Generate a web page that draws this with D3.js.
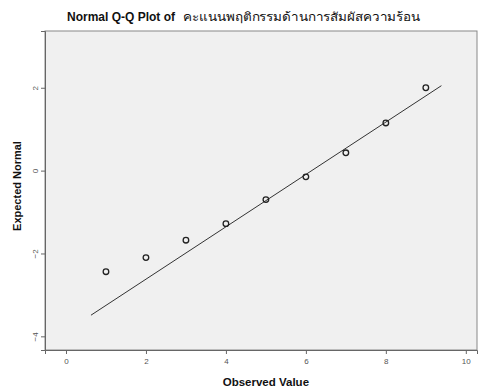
<!DOCTYPE html>
<html>
<head>
<meta charset="utf-8">
<script src="https://cdn.jsdelivr.net/npm/d3@7"></script>
<style>
  body { margin: 0; background: #fff; }
  text { font-family: Arial, "Liberation Sans", sans-serif; }
</style>
</head>
<body>
<script>
// observed values and their expected normal scores
const observed = [1, 2, 3, 4, 5, 6, 7, 8, 9];
const expected = [-2.44, -2.10, -1.68, -1.28, -0.70, -0.15, 0.43, 1.15, 2.0];
// reference line end points
const lineX = [0.625, 9.39];
const lineY = [-3.49, 2.05];
const xTicks = [0, 2, 4, 6, 8, 10];
const yTicks = [-4, -2, 0, 2];

const width = 478, height = 389;
const margin = { top: 31, right: 1, bottom: 39, left: 45 };

const svg = d3.select('body').append('svg')
  .attr('width', width)
  .attr('height', height);

const x = d3.scaleLinear().domain([-0.525, 10.28]).range([margin.left, width - margin.right]);
const y = d3.scaleLinear().domain([-4.33, 3.37]).range([height - margin.bottom, margin.top]);

svg.append('rect')
  .attr('x', margin.left)
  .attr('y', margin.top)
  .attr('width', width - margin.left - margin.right)
  .attr('height', height - margin.top - margin.bottom)
  .attr('fill', '#f0f0f0')
  .attr('stroke', '#888')
  .attr('stroke-width', 1);

// x axis
const xAxis = svg.append('g')
  .attr('transform', `translate(0,${height - margin.bottom})`)
  .call(d3.axisBottom(x).tickValues(xTicks).tickSize(4).tickPadding(4));
xAxis.select('.domain').attr('stroke', '#666');
xAxis.selectAll('.tick line').attr('stroke', '#666');
xAxis.selectAll('text').attr('fill', '#555').style('font-size', '8px');

// y axis, labels turned on their side like SPSS does
const yAxis = svg.append('g')
  .attr('transform', `translate(${margin.left},0)`)
  .call(d3.axisLeft(y).tickValues(yTicks).tickSize(4).tickPadding(4));
yAxis.select('.domain').attr('stroke', '#666');
yAxis.selectAll('.tick line').attr('stroke', '#666');
yAxis.selectAll('text')
  .attr('fill', '#555')
  .style('font-size', '8px')
  .attr('text-anchor', 'middle')
  .attr('x', 0)
  .attr('y', -7)
  .attr('dy', 0)
  .attr('transform', 'rotate(-90)');

// reference line
svg.append('line')
  .attr('x1', x(lineX[0]))
  .attr('y1', y(lineY[0]))
  .attr('x2', x(lineX[1]))
  .attr('y2', y(lineY[1]))
  .attr('stroke', '#333')
  .attr('stroke-width', 1);

// points
svg.selectAll('circle.pt')
  .data(observed)
  .join('circle')
  .attr('class', 'pt')
  .attr('cx', d => x(d))
  .attr('cy', (d, i) => y(expected[i]))
  .attr('r', 2.8)
  .attr('fill', 'none')
  .attr('stroke', '#222')
  .attr('stroke-width', 1.3);

// title
const title = svg.append('text')
  .attr('x', 67)
  .attr('y', 21)
  .style('font-size', '12px')
  .attr('fill', '#111');
title.append('tspan').attr('font-weight', 'bold').text('Normal Q-Q Plot of ');
title.append('tspan')
  .attr('x', 183)
  .attr('textLength', 237)
  .attr('lengthAdjust', 'spacingAndGlyphs')
  .text('คะแนนพฤติกรรมด้านการสัมผัสความร้อน');

// axis titles
svg.append('text')
  .attr('x', x(5))
  .attr('y', 386)
  .attr('text-anchor', 'middle')
  .attr('font-weight', 'bold')
  .style('font-size', '11.5px')
  .attr('fill', '#111')
  .text('Observed Value');

svg.append('text')
  .attr('transform', `translate(21,186) rotate(-90)`)
  .attr('text-anchor', 'middle')
  .attr('font-weight', 'bold')
  .style('font-size', '11px')
  .attr('fill', '#111')
  .text('Expected Normal');
</script>
</body>
</html>
